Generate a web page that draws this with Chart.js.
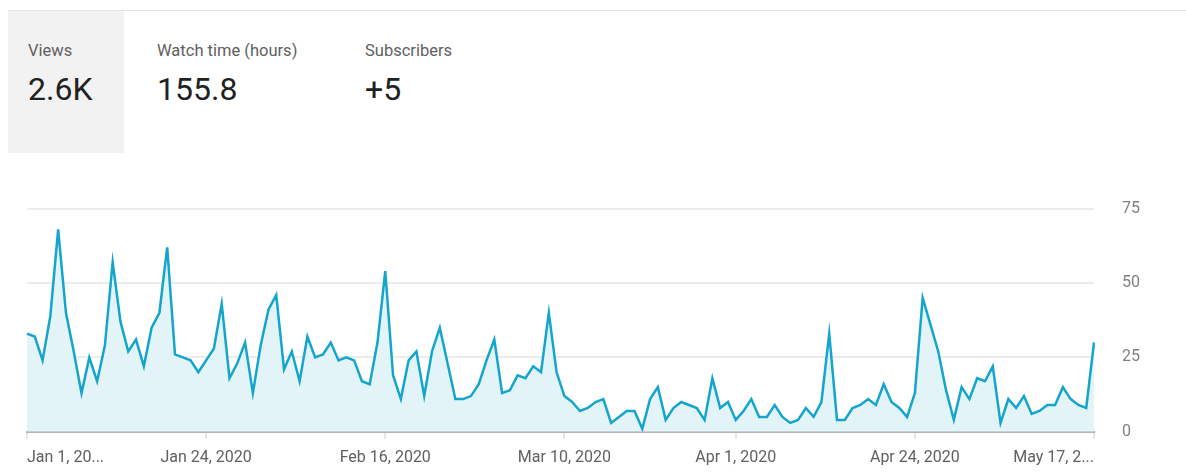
<!DOCTYPE html>
<html>
<head>
<meta charset="utf-8">
<script src="https://cdn.jsdelivr.net/npm/chart.js@4/dist/chart.umd.min.js"></script>
<style>
  html, body { margin: 0; padding: 0; background: #fff; }
  body { width: 1186px; height: 475px; position: relative; overflow: hidden; font-family: Roboto, "Noto Sans", sans-serif; }
  .topline { position: absolute; left: 8px; right: 0; top: 10px; height: 1px; background: #e5e5e5; }
  .tab { position: absolute; top: 11px; height: 142px; }
  .tab.sel { background: #f2f2f2; }
  .tab .lbl { position: absolute; top: 30px; font-size: 16.5px; color: #606060; white-space: nowrap; }
  .tab .val { position: absolute; top: 59px; font-size: 32px; color: #212121; white-space: nowrap; }
  #wrap { position: absolute; left: 0; top: 171px; width: 1186px; height: 307px; }
</style>
</head>
<body>
<div class="topline"></div>
<div class="tab sel" style="left:8px;width:116px;"><span class="lbl" style="left:20px">Views</span><span class="val" style="left:20px">2.6K</span></div>
<div class="tab" style="left:137px;width:190px;"><span class="lbl" style="left:20px">Watch time (hours)</span><span class="val" style="left:20px">155.8</span></div>
<div class="tab" style="left:345px;width:150px;"><span class="lbl" style="left:20px">Subscribers</span><span class="val" style="left:20px">+5</span></div>
<div id="wrap"><canvas id="chart"></canvas></div>
<script>
// daily views, Jan 1 - May 17, 2020
const views = [
  33, 32, 24, 39, 68, 40, 27, 13, 25, 17, 29, 57, 37, 27, 31, 22, 35, 40, 62, 26,
  25, 24, 20, 24, 28, 43, 18, 23, 30, 13, 29, 41, 46, 21, 27, 17, 32, 25, 26, 30,
  24, 25, 24, 17, 16, 30, 54, 19, 11, 24, 27, 12, 27, 35, 23, 11, 11, 12, 16, 24,
  31, 13, 14, 19, 18, 22, 20, 40, 20, 12, 10, 7, 8, 10, 11, 3, 5, 7, 7, 1,
  11, 15, 4, 8, 10, 9, 8, 4, 18, 8, 10, 4, 7, 11, 5, 5, 9, 5, 3, 4,
  8, 5, 10, 33, 4, 4, 8, 9, 11, 9, 16, 10, 8, 5, 13, 45, 36, 27, 14, 4,
  15, 11, 18, 17, 22, 3, 11, 8, 12, 6, 7, 9, 9, 15, 11, 9, 8, 30
];

const startDate = new Date(2020, 0, 1);
const days = [];
for (let i = 0; i < views.length; i++) {
  const d = new Date(startDate);
  d.setDate(d.getDate() + i);
  days.push(d.toLocaleDateString("en-US", { month: "short", day: "numeric", year: "numeric" }));
}

const tickIndex = [0, 23, 46, 69, 91, 114, 137];
const tickLabels = ["Jan 1, 20...", "Jan 24, 2020", "Feb 16, 2020", "Mar 10, 2020", "Apr 1, 2020", "Apr 24, 2020", "May 17, 2..."];
const yTicks = [0, 25, 50, 75];

Chart.defaults.font.family = "Roboto, 'Noto Sans', sans-serif";
Chart.defaults.animation = false;

new Chart(document.getElementById("chart"), {
  type: "line",
  data: {
    labels: days,
    datasets: [{
      label: "Views",
      data: views,
      borderColor: "#14a5cd",
      backgroundColor: "#e3f4f9",
      borderWidth: 2.5,
      fill: "origin",
      tension: 0,
      pointRadius: 0
    }]
  },
  options: {
    responsive: true,
    maintainAspectRatio: false,
    layout: { padding: { left: 27, right: 18, top: 12, bottom: 0 } },
    plugins: { legend: { display: false }, tooltip: { enabled: false } },
    scales: {
      x: {
        afterBuildTicks: axis => {
          axis.ticks = axis.ticks.filter(t => tickIndex.includes(t.value));
        },
        ticks: {
          autoSkip: false,
          maxRotation: 0,
          align: "inner",
          padding: 10,
          color: "#606060",
          font: { size: 16 },
          callback: (v) => tickLabels[tickIndex.indexOf(v)]
        },
        grid: { drawOnChartArea: false, drawTicks: true, tickLength: 7, color: "#e6e6e6", lineWidth: 2 },
        border: { display: true, color: "#b5b5b5", width: 2 }
      },
      y: {
        position: "right",
        min: 0,
        max: 75,
        afterBuildTicks: axis => {
          axis.ticks = yTicks.map(v => ({ value: v }));
        },
        ticks: { padding: 28, color: "#808080", font: { size: 16 } },
        grid: { drawTicks: false, color: "#ececec", lineWidth: 2 },
        border: { display: false }
      }
    }
  }
});
</script>
</body>
</html>
